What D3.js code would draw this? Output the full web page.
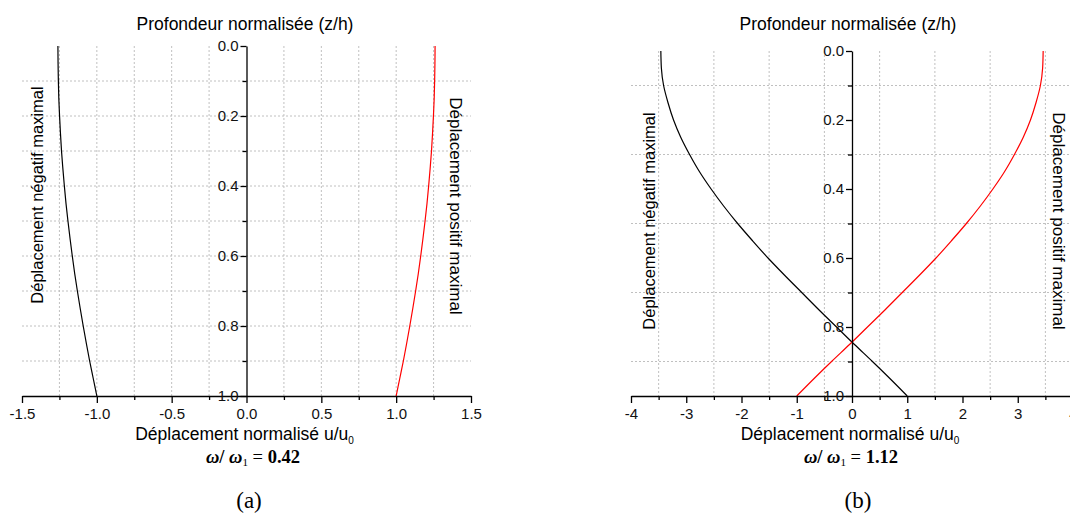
<!DOCTYPE html>
<html>
<head>
<meta charset="utf-8">
<script src="https://cdn.jsdelivr.net/npm/d3@7"></script>
<style>
    body { margin: 0; background: #fff; }
    svg { display: block; font-family: "Liberation Sans", Arial, sans-serif; }
</style>
</head>
<body>
<svg id="chart"></svg>
<script>
// profondeur normalisée z/h (pas de 0.05)
const profondeur = [0, 0.05, 0.1, 0.15, 0.2, 0.25, 0.3, 0.35, 0.4, 0.45, 0.5,
    0.55, 0.6, 0.65, 0.7, 0.75, 0.8, 0.85, 0.9, 0.95, 1.0]

// (a) omega/omega1 = 0.42
const positifA = [1.260, 1.259, 1.257, 1.254, 1.249, 1.243, 1.236, 1.227, 1.217, 1.206, 1.193,
    1.179, 1.164, 1.148, 1.130, 1.111, 1.091, 1.070, 1.048, 1.024, 1.000]
const negatifA = [-1.260, -1.259, -1.257, -1.254, -1.249, -1.243, -1.236, -1.227, -1.217, -1.206, -1.193,
    -1.179, -1.164, -1.148, -1.130, -1.111, -1.091, -1.070, -1.048, -1.024, -1.000]

// (b) omega/omega1 = 1.12
const positifB = [3.46, 3.45, 3.41, 3.33, 3.23, 3.10, 2.94, 2.76, 2.55, 2.32, 2.07,
    1.80, 1.52, 1.22, 0.91, 0.60, 0.28, -0.04, -0.37, -0.69, -1.00]
const negatifB = [-3.46, -3.45, -3.41, -3.33, -3.23, -3.10, -2.94, -2.76, -2.55, -2.32, -2.07,
    -1.80, -1.52, -1.22, -0.91, -0.60, -0.28, 0.04, 0.37, 0.69, 1.00]

// graduations
const ticksXA = [-1.5, -1, -0.5, 0, 0.5, 1, 1.5]
const minorXA = [-1.25, -0.75, -0.25, 0.25, 0.75, 1.25]
const gridXA = [-1.25, -1, -0.75, -0.5, -0.25, 0.25, 0.5, 0.75, 1, 1.25]
const gridYA = [0.1, 0.2, 0.3, 0.4, 0.5, 0.6, 0.7, 0.8, 0.9]

const ticksXB = [-4, -3, -2, -1, 0, 1, 2, 3, 4]
const minorXB = [-3.5, -2.5, -1.5, -0.5, 0.5, 1.5, 2.5, 3.5]
const gridXB = [-3.5, -2.5, -1.5, -0.5, 0.5, 1.5, 2.5, 3.5]
const gridYB = [0.1, 0.3, 0.5, 0.7, 0.9]

const ticksY = [0, 0.2, 0.4, 0.6, 0.8, 1.0]
const minorY = [0.1, 0.3, 0.5, 0.7, 0.9]

const titreY = "Profondeur normalisée (z/h)"
const titreX = "Déplacement normalisé u/u"
const labelNeg = "Déplacement négatif maximal"
const labelPos = "Déplacement positif maximal"

const svg = d3.select("#chart")
    .attr("width", 1070)
    .attr("height", 514)

function drawPanel(p) {
    let x = d3.scaleLinear().domain(p.xDomain).range([p.left, p.left + p.width])
    let y = d3.scaleLinear().domain([0, 1]).range([p.top, p.top + p.height])

    const g = svg.append("g")

    // grille pointillée
    g.append("g").selectAll("line")
        .data(p.gridX)
        .join("line")
        .attr("x1", d => x(d)).attr("x2", d => x(d))
        .attr("y1", y(0)).attr("y2", y(1))
        .attr("stroke", "#c0c0c0")
        .attr("stroke-dasharray", "2,2")

    g.append("g").selectAll("line")
        .data(p.gridY)
        .join("line")
        .attr("x1", x(p.xDomain[0])).attr("x2", x(p.xDomain[1]))
        .attr("y1", d => y(d)).attr("y2", d => y(d))
        .attr("stroke", "#c0c0c0")
        .attr("stroke-dasharray", "2,2")

    // courbes
    const line = d3.line()
        .x(d => x(d[0]))
        .y(d => y(d[1]))
        .curve(d3.curveMonotoneY)

    g.append("path")
        .datum(p.neg.map((v, i) => [v, profondeur[i]]))
        .attr("d", line)
        .attr("fill", "none")
        .attr("stroke", "#000")
        .attr("stroke-width", 1.2)

    g.append("path")
        .datum(p.pos.map((v, i) => [v, profondeur[i]]))
        .attr("d", line)
        .attr("fill", "none")
        .attr("stroke", "#ff0000")
        .attr("stroke-width", 1.2)

    // axe X en bas
    g.append("g")
        .attr("transform", `translate(0, ${y(1)})`)
        .call(d3.axisBottom(x)
            .tickValues(p.ticksX)
            .tickFormat(p.fmtX)
            .tickSize(7)
            .tickSizeOuter(0)
            .tickPadding(5))

    g.append("g")
        .attr("transform", `translate(0, ${y(1)})`)
        .call(d3.axisBottom(x)
            .tickValues(p.minorX)
            .tickFormat("")
            .tickSize(4)
            .tickSizeOuter(0))
        .select(".domain").remove()

    // axe Y au centre (x = 0)
    g.append("g")
        .attr("transform", `translate(${x(0)}, 0)`)
        .call(d3.axisLeft(y)
            .tickValues(ticksY)
            .tickFormat(d => d.toFixed(1))
            .tickSize(6)
            .tickSizeOuter(0)
            .tickPadding(2))

    g.append("g")
        .attr("transform", `translate(${x(0)}, 0)`)
        .call(d3.axisLeft(y)
            .tickValues(minorY)
            .tickFormat("")
            .tickSize(4)
            .tickSizeOuter(0))
        .select(".domain").remove()

    g.selectAll(".tick text")
        .attr("font-family", "Liberation Sans, Arial, sans-serif")
        .attr("font-size", "15px")
        .attr("fill", "#111")
    g.selectAll(".domain, .tick line")
        .attr("stroke", "#000")
        .attr("stroke-width", 1.3)

    // titres
    g.append("text")
        .attr("x", p.titleX)
        .attr("y", 30)
        .attr("text-anchor", "middle")
        .attr("font-size", "17.5px")
        .text(titreY)

    const tx = g.append("text")
        .attr("x", x(0) - 2)
        .attr("y", 440)
        .attr("text-anchor", "middle")
        .attr("font-size", "17.5px")
    tx.append("tspan").text(titreX)
    tx.append("tspan").attr("font-size", "10px").attr("dy", 4).text("0")

    g.append("text")
        .attr("transform", `translate(${p.negX}, ${p.labelY}) rotate(-90)`)
        .attr("text-anchor", "middle")
        .attr("font-size", "16.5px")
        .text(labelNeg)

    g.append("text")
        .attr("transform", `translate(${p.posX}, ${p.labelY + p.posShift}) rotate(90)`)
        .attr("text-anchor", "middle")
        .attr("font-size", "17px")
        .text(labelPos)

    // omega / omega1
    const om = g.append("text")
        .attr("x", p.omegaX)
        .attr("y", 463)
        .attr("text-anchor", "middle")
        .attr("font-family", "Liberation Serif, Times New Roman, serif")
        .attr("font-size", "18.5px")
        .attr("font-weight", "bold")
    om.append("tspan").attr("font-style", "italic").text("ω")
    om.append("tspan").text("/ ")
    om.append("tspan").attr("font-style", "italic").text("ω")
    om.append("tspan").attr("font-size", "11px").attr("font-weight", "normal").attr("dy", 3).text("1")
    om.append("tspan").attr("font-weight", "normal").attr("dy", -3).text(" = ")
    om.append("tspan").text(p.ratio)

    g.append("text")
        .attr("x", p.letterX)
        .attr("y", 508)
        .attr("text-anchor", "middle")
        .attr("font-family", "Liberation Serif, Times New Roman, serif")
        .attr("font-size", "23px")
        .text(p.letter)
}

drawPanel({
    xDomain: [-1.5, 1.5], left: 22, width: 449, top: 46, height: 350,
    ticksX: ticksXA, minorX: minorXA, gridX: gridXA, gridY: gridYA,
    fmtX: d => d.toFixed(1),
    pos: positifA, neg: negatifA,
    titleX: 245, negX: 43, posX: 450, labelY: 195, posShift: 11,
    omegaX: 253, ratio: "0.42", letter: "(a)", letterX: 249
})

drawPanel({
    xDomain: [-4, 4], left: 631, width: 442, top: 51, height: 345,
    ticksX: ticksXB, minorX: minorXB, gridX: gridXB, gridY: gridYB,
    fmtX: d => String(d),
    pos: positifB, neg: negatifB,
    titleX: 848, negX: 655, posX: 1053, labelY: 221, posShift: 0,
    omegaX: 851, ratio: "1.12", letter: "(b)", letterX: 858
})
</script>
</body>
</html>
